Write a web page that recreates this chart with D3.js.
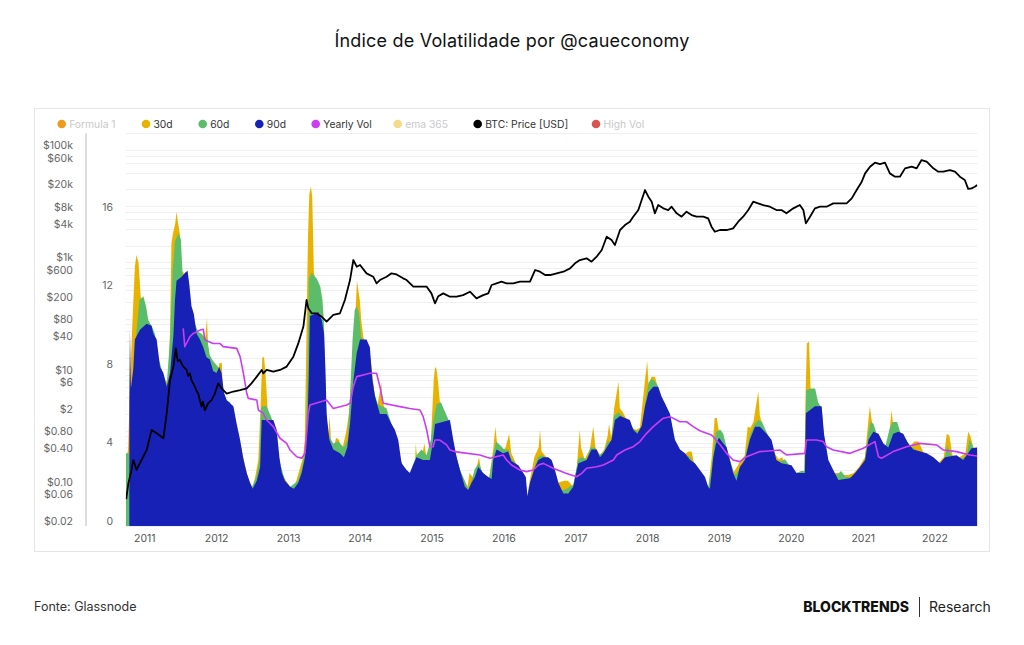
<!DOCTYPE html>
<html>
<head>
<meta charset="utf-8">
<script src="https://cdn.jsdelivr.net/npm/d3@7"></script>
<style>
  body { margin: 0; background: #fff; }
  svg { display: block; font-family: Inter, "Open Sans", sans-serif; }
</style>
</head>
<body>
<script>
// ---- data ----
var legendLabels = ["Formula 1", "30d", "60d", "90d", "Yearly Vol", "ema 365", "BTC: Price [USD]", "High Vol"];
var legendColors = ["#ee9a1b", "#e8b300", "#5bbd6a", "#1721b6", "#cb3cf2", "#f7d98a", "#000000", "#d9534f"];
var legendActive = [false, true, true, true, true, false, true, false];

var volTicks = [0, 4, 8, 12, 16];
var priceTicks = [100000, 60000, 20000, 8000, 4000, 1000, 600, 200, 80, 40, 10, 6, 2, 0.8, 0.4, 0.1, 0.06, 0.02];
var priceTickLabels = ["$100k", "$60k", "$20k", "$8k", "$4k", "$1k", "$600", "$200", "$80", "$40", "$10", "$6", "$2", "$0.80", "$0.40", "$0.10", "$0.06", "$0.02"];

var vol30 = [
  ["2010-09-30",3.0],["2010-10-11",4.0],["2010-10-15",5.4],["2010-10-20",7.0],["2010-10-31",10.0],["2010-11-14",13.2],["2010-11-22",13.8],["2010-12-03",13.4],["2010-12-13",11.8],["2010-12-21",11.0],
  ["2011-01-01",10.5],["2011-01-12",9.5],["2011-01-30",9.3],["2011-02-06",9.4],["2011-02-17",9.6],["2011-03-04",8.9],["2011-03-15",8.3],["2011-03-29",8.0],["2011-04-13",7.5],["2011-05-01",7.3],["2011-05-12",10.0],["2011-05-19",14.4],["2011-05-27",14.9],["2011-06-07",15.4],["2011-06-14",16.0],["2011-06-21",15.5],["2011-07-02",14.8],["2011-07-10",13.0],["2011-07-20",12.9],["2011-08-08",11.8],["2011-08-19",11.4],["2011-09-02",11.0],["2011-09-13",10.2],["2011-09-28",9.5],["2011-10-20",9.0],["2011-11-07",9.6],["2011-11-16",10.6],["2011-11-22",9.0],["2011-12-06",8.2],["2011-12-24",7.8],
  ["2012-01-08",7.9],["2012-01-19",8.3],["2012-01-30",8.3],["2012-02-06",6.5],["2012-02-25",6.0],["2012-04-01",5.0],["2012-05-08",4.0],["2012-06-13",2.3],["2012-07-05",1.95],["2012-07-20",2.6],["2012-08-03",3.4],["2012-08-14",6.0],["2012-08-23",8.6],["2012-09-01",8.6],["2012-09-08",7.8],["2012-09-19",6.0],["2012-10-04",5.3],["2012-10-19",5.0],["2012-11-06",4.0],["2012-11-24",2.8],["2012-12-16",2.4],
  ["2013-01-12",2.0],["2013-02-06",2.1],["2013-03-04",3.0],["2013-03-18",3.5],["2013-03-27",4.4],["2013-04-05",10.0],["2013-04-12",14.6],["2013-04-19",16.9],["2013-04-27",17.3],["2013-05-04",16.8],["2013-05-12",13.0],["2013-05-19",12.5],["2013-06-03",12.0],["2013-06-17",10.5],["2013-07-02",9.5],["2013-07-13",6.0],["2013-07-24",4.5],["2013-07-31",5.6],["2013-08-08",4.3],["2013-08-22",4.0],["2013-09-02",4.5],["2013-09-17",4.4],["2013-10-01",3.8],["2013-10-19",4.6],["2013-10-27",5.0],["2013-11-07",5.8],["2013-11-29",9.1],["2013-12-07",10.2],["2013-12-17",12.5],
  ["2014-01-01",11.5],["2014-01-08",10.5],["2014-01-19",9.6],["2014-02-06",9.2],["2014-02-25",8.5],["2014-03-15",6.9],["2014-03-29",6.0],["2014-04-20",7.3],["2014-04-27",6.3],["2014-05-19",5.7],["2014-06-17",5.0],["2014-07-20",3.6],["2014-08-15",2.9],["2014-09-13",2.6],["2014-10-09",3.2],["2014-10-12",4.2],["2014-10-19",3.5],["2014-11-10",3.4],["2014-11-25",4.2],["2014-12-06",3.5],["2014-12-28",4.3],
  ["2015-01-12",7.5],["2015-01-19",8.1],["2015-01-26",8.0],["2015-02-02",7.4],["2015-02-13",6.2],["2015-03-07",5.6],["2015-04-02",5.2],["2015-04-20",4.0],["2015-05-27",2.8],["2015-07-02",2.0],["2015-07-13",2.7],["2015-07-28",2.5],["2015-08-08",2.6],["2015-08-30",3.5],["2015-09-13",2.6],["2015-10-20",2.4],["2015-11-11",4.0],["2015-11-21",5.06],["2015-12-02",4.0],["2015-12-24",3.8],
  ["2016-01-12",4.0],["2016-01-30",4.7],["2016-02-10",3.7],["2016-03-14",3.0],["2016-04-19",2.4],["2016-05-01",1.5],["2016-05-15",2.4],["2016-05-26",2.9],["2016-06-06",3.5],["2016-06-28",4.0],["2016-07-05",4.9],["2016-07-13",3.8],["2016-08-07",3.5],["2016-09-05",3.0],["2016-10-01",2.2],["2016-11-06",2.3],["2016-11-24",2.3],["2016-12-21",2.0],
  ["2017-01-08",3.0],["2017-01-23",4.9],["2017-01-30",4.0],["2017-02-17",3.4],["2017-03-15",3.9],["2017-04-02",5.06],["2017-04-13",4.0],["2017-05-08",3.6],["2017-05-27",3.9],["2017-06-14",4.6],["2017-06-21",5.2],["2017-07-02",4.5],["2017-07-17",6.0],["2017-08-08",7.35],["2017-08-15",6.0],["2017-08-30",5.8],["2017-09-20",5.4],["2017-10-12",5.0],["2017-11-07",4.9],["2017-11-25",5.0],["2017-12-21",7.44],
  ["2018-01-01",8.4],["2018-01-08",7.2],["2018-01-23",7.6],["2018-02-10",7.6],["2018-02-25",7.0],["2018-03-15",6.4],["2018-04-20",5.6],["2018-05-19",4.2],["2018-06-14",3.7],["2018-07-02",3.6],["2018-07-31",3.8],["2018-08-15",3.8],["2018-08-30",3.1],["2018-10-01",2.6],["2018-11-07",1.9],["2018-11-25",3.5],["2018-12-10",5.5],["2018-12-21",5.5],
  ["2019-01-01",4.8],["2019-01-23",4.5],["2019-02-13",3.8],["2019-03-15",2.7],["2019-04-02",3.0],["2019-04-20",3.3],["2019-05-12",3.6],["2019-05-27",5.06],["2019-06-10",5.0],["2019-06-25",5.3],["2019-07-20",6.85],["2019-07-28",5.6],["2019-08-15",5.0],["2019-09-13",4.5],["2019-10-05",3.8],["2019-10-31",3.4],["2019-11-18",3.5],["2019-12-13",3.0],
  ["2020-01-30",2.7],["2020-02-25",2.8],["2020-03-10",2.8],["2020-03-17",7.0],["2020-03-23",9.3],["2020-04-03",9.4],["2020-04-12",6.6],["2020-04-27",6.8],["2020-05-19",6.1],["2020-06-13",4.5],["2020-07-09",3.2],["2020-08-07",2.7],["2020-08-29",2.7],["2020-09-20",2.6],["2020-10-19",2.6],["2020-11-17",2.7],["2020-12-13",3.0],
  ["2021-01-12",3.5],["2021-01-26",5.0],["2021-02-06",6.1],["2021-02-17",5.3],["2021-03-07",4.8],["2021-04-02",4.2],["2021-05-01",4.0],["2021-05-19",5.0],["2021-05-27",5.9],["2021-06-07",5.0],["2021-07-02",4.9],["2021-07-31",4.5],["2021-08-26",4.0],["2021-09-20",4.3],["2021-10-12",4.3],["2021-11-07",3.7],["2021-12-13",3.5],
  ["2022-01-19",3.2],["2022-02-17",3.5],["2022-03-04",4.7],["2022-03-18",4.6],["2022-04-02",3.6],["2022-05-08",3.5],["2022-06-07",3.7],["2022-06-21",4.8],["2022-07-02",4.6],["2022-07-20",3.9],["2022-08-06",3.8]
];

var vol60 = [
  ["2010-09-29",22],["2010-09-30",3.7],["2010-10-14",3.7],["2010-10-20",3.0],["2010-10-28",6.0],["2010-11-23",10.0],["2010-12-07",11.5],["2010-12-27",11.7],
  ["2011-01-10",11.2],["2011-01-21",10.5],["2011-02-07",10.2],["2011-02-24",9.8],["2011-03-13",8.6],["2011-03-30",8.0],["2011-04-25",7.2],["2011-05-12",9.5],["2011-05-25",13.0],["2011-06-06",14.5],["2011-06-23",14.9],["2011-07-06",14.6],["2011-07-15",12.8],["2011-08-04",12.0],["2011-08-29",11.0],["2011-09-15",10.3],["2011-10-02",9.9],["2011-10-19",9.8],["2011-11-05",9.6],["2011-11-17",9.5],["2011-11-30",8.7],["2011-12-17",8.4],
  ["2012-01-03",8.2],["2012-01-20",8.0],["2012-02-06",6.8],["2012-02-24",6.4],["2012-03-12",6.3],["2012-03-29",5.8],["2012-05-01",4.0],["2012-06-03",2.4],["2012-07-02",2.0],["2012-07-24",2.5],["2012-08-08",3.3],["2012-08-17",6.0],["2012-08-22",6.1],["2012-09-13",6.1],["2012-10-05",5.6],["2012-10-20",5.2],["2012-11-03",4.5],["2012-11-18",3.3],["2012-12-17",2.3],
  ["2013-01-12",2.0],["2013-02-21",2.3],["2013-03-11",2.9],["2013-03-29",3.8],["2013-04-09",7.0],["2013-04-17",12.6],["2013-05-01",12.9],["2013-05-27",12.6],["2013-06-14",12.2],["2013-06-25",11.5],["2013-07-02",10.5],["2013-07-10",7.0],["2013-07-17",5.0],["2013-08-01",4.5],["2013-08-19",4.2],["2013-09-13",4.3],["2013-10-12",4.0],["2013-10-31",4.4],["2013-11-14",7.0],["2013-11-25",9.5],["2013-12-06",11.0],["2013-12-17",11.2],["2013-12-28",10.8],
  ["2014-01-08",9.6],["2014-02-06",9.3],["2014-02-28",8.0],["2014-03-15",6.8],["2014-04-02",6.2],["2014-04-20",6.1],["2014-05-16",6.0],["2014-06-14",5.1],["2014-07-13",4.0],["2014-08-08",2.9],["2014-09-13",2.7],["2014-10-16",3.6],["2014-11-11",3.9],["2014-12-06",3.6],["2014-12-28",4.4],
  ["2015-01-12",5.5],["2015-01-26",6.2],["2015-02-17",6.3],["2015-03-15",5.7],["2015-04-02",5.3],["2015-04-20",4.2],["2015-05-27",2.8],["2015-07-06",1.9],["2015-07-24",2.3],["2015-08-08",2.9],["2015-08-30",3.2],["2015-09-21",2.6],["2015-10-20",2.4],["2015-11-11",3.7],["2015-11-25",4.3],["2015-12-17",4.1],
  ["2016-01-05",3.9],["2016-01-26",3.9],["2016-02-06",3.5],["2016-03-14",3.0],["2016-04-19",2.5],["2016-05-01",1.5],["2016-05-19",2.3],["2016-06-10",3.1],["2016-06-25",3.5],["2016-07-13",3.6],["2016-08-01",3.5],["2016-09-02",3.3],["2016-09-21",2.7],["2016-10-20",1.8],["2016-11-18",1.9],["2016-12-21",2.1],
  ["2017-01-08",3.0],["2017-01-15",3.4],["2017-01-30",3.5],["2017-02-28",3.4],["2017-03-18",4.0],["2017-04-09",4.0],["2017-05-01",3.6],["2017-05-27",3.8],["2017-06-14",4.3],["2017-07-02",4.3],["2017-07-17",5.6],["2017-08-08",5.8],["2017-09-05",5.5],["2017-10-05",5.2],["2017-10-27",4.9],["2017-11-14",4.8],["2017-12-06",5.1],["2017-12-24",6.4],
  ["2018-01-08",7.3],["2018-01-23",7.5],["2018-02-06",7.4],["2018-02-21",7.2],["2018-03-15",6.5],["2018-04-02",6.2],["2018-04-27",5.6],["2018-05-19",4.3],["2018-06-14",3.8],["2018-07-20",3.6],["2018-08-08",3.5],["2018-09-02",3.0],["2018-09-24",2.7],["2018-10-20",2.4],["2018-11-07",1.9],["2018-11-25",3.0],["2018-12-06",4.0],["2018-12-17",4.8],
  ["2019-01-08",4.9],["2019-01-23",4.7],["2019-02-06",4.1],["2019-02-28",3.3],["2019-03-22",2.6],["2019-04-02",2.7],["2019-04-20",3.0],["2019-05-12",3.4],["2019-06-07",4.6],["2019-07-02",5.2],["2019-07-20",5.4],["2019-08-08",5.3],["2019-08-30",4.8],["2019-09-24",4.3],["2019-10-05",3.8],["2019-10-20",3.3],["2019-11-14",3.3],["2019-12-02",3.4],
  ["2020-01-01",3.0],["2020-01-30",2.7],["2020-02-25",2.8],["2020-03-10",2.8],["2020-03-16",5.0],["2020-03-19",6.9],["2020-04-12",7.0],["2020-05-04",7.0],["2020-05-19",6.3],["2020-06-06",6.0],["2020-06-17",4.6],["2020-07-09",3.3],["2020-08-03",2.7],["2020-08-22",2.6],["2020-09-13",2.8],["2020-10-05",2.5],["2020-11-07",2.5],["2020-12-06",2.7],["2020-12-24",3.0],
  ["2021-01-12",3.4],["2021-01-30",4.8],["2021-02-10",5.3],["2021-02-25",5.2],["2021-03-15",4.6],["2021-04-02",4.1],["2021-04-27",4.1],["2021-05-19",5.0],["2021-06-03",5.3],["2021-06-25",5.3],["2021-07-13",4.7],["2021-08-08",4.4],["2021-08-30",4.1],["2021-09-24",3.9],["2021-10-20",3.7],["2021-11-18",3.6],["2021-12-13",3.5],
  ["2022-01-12",3.3],["2022-01-30",3.1],["2022-02-21",3.4],["2022-03-07",4.1],["2022-03-26",3.6],["2022-04-20",3.5],["2022-05-16",3.4],["2022-06-14",3.6],["2022-06-28",4.4],["2022-07-17",4.0],["2022-08-06",3.9]
];

var vol90 = [
  ["2010-10-17",6.4],["2010-10-20",10.0],["2010-10-25",7.0],["2010-11-06",8.0],["2010-11-14",9.5],["2010-12-10",10.0],
  ["2011-01-13",10.3],["2011-02-07",10.2],["2011-02-16",9.8],["2011-03-05",9.5],["2011-03-22",8.1],["2011-04-08",7.8],["2011-04-25",7.1],["2011-05-12",7.8],["2011-05-29",9.7],["2011-06-06",11.5],["2011-06-14",12.5],["2011-07-10",12.7],["2011-07-27",12.9],["2011-08-09",13.0],["2011-08-18",12.3],["2011-08-29",11.2],["2011-09-10",10.8],["2011-09-24",9.8],["2011-10-11",9.5],["2011-10-28",9.1],["2011-11-13",8.6],["2011-11-30",8.5],["2011-12-17",7.9],
  ["2012-01-03",7.8],["2012-01-17",8.1],["2012-01-29",7.8],["2012-02-10",6.8],["2012-02-24",6.4],["2012-03-12",6.25],["2012-03-29",6.1],["2012-04-15",5.2],["2012-05-02",4.4],["2012-05-19",3.4],["2012-06-05",2.7],["2012-06-22",2.2],["2012-07-05",1.9],["2012-07-26",2.3],["2012-08-12",3.0],["2012-08-20",5.4],["2012-10-18",5.4],["2012-11-04",4.9],["2012-11-18",3.5],["2012-11-30",2.7],["2012-12-16",2.3],
  ["2013-01-11",2.0],["2013-01-31",1.9],["2013-02-22",2.2],["2013-03-11",2.7],["2013-03-28",3.5],["2013-04-09",5.0],["2013-04-16",7.5],["2013-04-22",10.7],["2013-05-18",10.8],["2013-06-04",10.9],["2013-06-21",10.5],["2013-07-03",9.8],["2013-07-10",8.0],["2013-07-16",5.7],["2013-07-30",4.4],["2013-08-19",3.9],["2013-09-22",3.7],["2013-10-12",3.5],["2013-10-29",4.0],["2013-11-12",5.2],["2013-11-29",7.4],["2013-12-16",8.8],
  ["2014-01-02",9.5],["2014-02-04",9.5],["2014-02-21",9.1],["2014-03-05",7.5],["2014-03-19",6.6],["2014-04-13",5.7],["2014-05-17",5.7],["2014-06-11",5.2],["2014-06-28",4.9],["2014-07-15",4.4],["2014-08-01",3.2],["2014-08-27",2.85],["2014-09-12",2.7],["2014-10-16",3.5],["2014-11-19",3.36],["2014-12-23",3.36],
  ["2015-01-09",4.4],["2015-01-18",5.2],["2015-04-04",5.4],["2015-04-21",4.4],["2015-05-08",3.5],["2015-05-25",2.85],["2015-06-19",2.0],["2015-07-06",1.83],["2015-07-23",2.2],["2015-08-09",2.5],["2015-08-26",3.0],["2015-09-20",2.7],["2015-10-16",2.5],["2015-11-02",2.4],["2015-11-10",3.36],["2015-11-27",3.9],["2015-12-31",3.7],
  ["2016-01-25",3.8],["2016-02-11",3.3],["2016-03-17",3.1],["2016-04-11",2.7],["2016-04-24",2.5],["2016-05-02",1.5],["2016-05-15",2.2],["2016-06-10",3.0],["2016-06-27",3.36],["2016-07-22",3.5],["2016-08-16",3.5],["2016-09-02",3.36],["2016-09-19",2.85],["2016-10-06",2.2],["2016-11-01",1.66],["2016-11-26",1.66],["2016-12-21",2.0],
  ["2017-01-08",2.85],["2017-01-16",3.2],["2017-02-27",3.36],["2017-03-24",3.9],["2017-04-19",3.9],["2017-05-06",3.5],["2017-05-23",3.7],["2017-06-09",4.0],["2017-07-04",4.4],["2017-07-21",5.4],["2017-08-16",5.6],["2017-10-05",5.4],["2017-10-22",4.9],["2017-11-12",4.7],["2017-12-04",5.1],["2017-12-21",6.1],
  ["2018-01-07",6.8],["2018-02-01",7.1],["2018-02-26",7.1],["2018-03-15",6.6],["2018-04-01",6.25],["2018-04-27",5.7],["2018-05-22",4.4],["2018-06-17",3.9],["2018-07-12",3.7],["2018-08-07",3.36],["2018-09-01",3.2],["2018-09-26",2.85],["2018-10-22",2.5],["2018-11-07",2.0],["2018-11-16",1.9],["2018-12-03",3.5],["2018-12-17",4.2],
  ["2019-01-01",4.5],["2019-01-23",4.2],["2019-02-09",4.0],["2019-02-25",3.36],["2019-03-14",2.7],["2019-03-31",2.3],["2019-04-17",3.0],["2019-05-13",3.36],["2019-06-07",4.4],["2019-07-03",5.06],["2019-07-28",5.06],["2019-08-31",4.7],["2019-09-25",4.4],["2019-10-07",3.9],["2019-10-20",3.36],["2019-11-15",3.2],
  ["2020-01-05",3.1],["2020-01-30",2.7],["2020-03-13",2.7],["2020-03-18",5.74],["2020-05-03",6.1],["2020-06-06",6.1],["2020-06-18",4.7],["2020-07-10",3.36],["2020-08-04",2.85],["2020-08-30",2.34],["2020-10-28",2.43],["2020-11-23",2.7],["2020-12-18",3.0],
  ["2021-01-13",3.36],["2021-01-30",4.4],["2021-02-24",4.8],["2021-03-22",4.7],["2021-04-16",4.2],["2021-05-11",4.0],["2021-06-05",4.7],["2021-07-01",4.8],["2021-07-26",4.7],["2021-08-20",4.2],["2021-09-15",3.9],["2021-11-22",3.7],["2021-12-26",3.5],
  ["2022-01-29",3.2],["2022-02-23",3.5],["2022-04-23",3.6],["2022-05-27",3.36],["2022-07-08",3.96],["2022-08-06",4.0]
];

var yearlyVol = [
  ["2011-07-18",10.07],["2011-07-26",9.14],["2011-08-04",9.31],["2011-08-21",9.65],["2011-09-07",9.81],["2011-10-11",9.98],["2011-10-28",10.02],["2011-11-05",9.48],["2011-12-17",9.3],
  ["2012-01-20",9.3],["2012-02-06",9.14],["2012-04-15",9.05],["2012-05-02",8.63],["2012-05-19",7.78],["2012-06-05",6.76],["2012-06-13",6.5],["2012-07-26",6.42],["2012-08-03",5.91],["2012-08-28",5.74],["2012-09-14",5.4],["2012-10-18",5.06],["2012-11-21",4.47],["2012-12-25",4.21],
  ["2013-01-11",3.87],["2013-02-14",3.53],["2013-03-11",3.45],["2013-03-28",3.7],["2013-04-14",5.74],["2013-04-22",6.16],["2013-07-16",6.42],["2013-08-19",5.99],["2013-10-26",6.16],["2013-11-12",6.25],["2013-11-29",7.1],["2013-12-16",7.61],
  ["2014-02-21",7.78],["2014-03-27",7.78],["2014-04-13",7.1],["2014-04-30",6.25],["2014-07-24",6.08],["2014-09-12",5.99],["2014-11-03",5.91],["2014-11-19",5.57],["2014-12-07",4.89],["2014-12-23",4.04],
  ["2015-01-09",4.04],["2015-01-18",4.38],["2015-02-12",4.38],["2015-03-18",4.13],["2015-04-04",3.87],["2015-04-29",3.79],["2015-09-03",3.62],["2015-10-24",3.45],["2015-12-31",3.62],
  ["2016-01-17",3.36],["2016-02-11",3.11],["2016-03-25",2.85],["2016-04-28",2.77],["2016-06-01",2.85],["2016-06-27",3.11],["2016-07-22",3.19],["2016-09-10",2.94],["2016-11-17",2.68],
  ["2017-01-07",2.51],["2017-02-02",2.68],["2017-02-27",2.94],["2017-04-19",3.02],["2017-05-23",3.11],["2017-07-13",3.36],["2017-07-30",3.62],["2017-09-10",3.87],["2017-10-22",4.04],["2017-11-25",4.3],["2017-12-29",4.72],
  ["2018-02-01",5.06],["2018-03-24",5.49],["2018-04-27",5.57],["2018-06-17",5.31],["2018-07-20",5.31],["2018-08-23",5.06],["2018-09-26",4.85],["2018-11-24",4.63],["2018-12-03",4.55],
  ["2019-01-06",4.15],["2019-02-09",3.7],["2019-03-14",3.36],["2019-04-17",3.28],["2019-05-21",3.53],["2019-07-28",3.79],["2019-11-07",3.87],["2019-12-10",3.62],
  ["2020-03-13",3.7],["2020-03-21",4.38],["2020-05-11",4.38],["2020-06-14",4.3],["2020-07-01",4.04],["2020-08-04",3.87],["2020-10-28",3.7],
  ["2021-01-04",3.96],["2021-03-04",4.3],["2021-03-22",3.53],["2021-04-07",3.45],["2021-06-05",3.79],["2021-08-12",4.04],["2021-10-19",4.21],
  ["2022-01-12",4.13],["2022-02-15",3.87],["2022-04-23",3.79],["2022-06-30",3.62],["2022-08-06",3.57]
];

var btcPrice = [
  ["2010-10-01",0.06],["2010-10-12",0.115],["2010-10-28",0.2],["2010-11-06",0.3],["2010-11-23",0.2],["2010-12-01",0.23],["2010-12-18",0.3],
  ["2011-01-13",0.45],["2011-02-07",1.03],["2011-03-05",0.9],["2011-04-08",0.73],["2011-04-25",2.04],["2011-05-12",8.0],["2011-05-29",13.9],["2011-06-10",29.4],["2011-06-20",17.5],["2011-07-01",18.2],["2011-07-18",13.9],["2011-08-04",12.1],["2011-08-12",9.5],["2011-08-21",10.5],["2011-08-29",8.0],["2011-09-15",6.1],["2011-09-25",5.0],["2011-10-02",4.6],["2011-10-19",2.7],["2011-10-26",3.3],["2011-11-05",2.3],["2011-11-22",3.1],["2011-12-09",3.5],["2011-12-26",4.6],
  ["2012-01-12",7.0],["2012-01-29",5.7],["2012-02-24",4.6],["2012-03-29",5.0],["2012-05-02",5.3],["2012-06-05",5.7],["2012-06-29",7.0],["2012-07-26",9.2],["2012-08-20",12.1],["2012-08-28",10.5],["2012-09-14",12.1],["2012-10-18",11.3],["2012-11-21",12.1],["2012-12-25",13.9],
  ["2013-01-28",20.9],["2013-02-22",36],["2013-03-20",72],["2013-04-05",214],["2013-04-14",152],["2013-05-01",124],["2013-05-26",124],["2013-06-21",108],["2013-07-16",88],["2013-08-19",116],["2013-09-22",124],["2013-10-17",214],["2013-11-12",486],["2013-11-29",1105],["2013-12-16",840],
  ["2014-01-02",900],["2014-02-04",640],["2014-03-10",557],["2014-03-27",424],["2014-04-13",486],["2014-05-17",557],["2014-06-11",640],["2014-07-07",610],["2014-08-09",521],["2014-08-27",486],["2014-09-30",370],["2014-11-03",370],["2014-12-07",370],["2014-12-31",281],
  ["2015-01-18",187],["2015-02-04",250],["2015-03-01",281],["2015-04-04",245],["2015-05-08",245],["2015-06-10",262],["2015-07-15",301],["2015-08-17",229],["2015-09-20",262],["2015-10-16",281],["2015-11-02",396],["2015-11-27",424],["2015-12-22",454],
  ["2016-01-17",424],["2016-02-20",424],["2016-03-25",454],["2016-05-15",454],["2016-06-10",733],["2016-07-05",684],["2016-07-31",597],["2016-08-25",597],["2016-09-28",640],["2016-11-01",684],["2016-12-05",785],["2016-12-30",964],
  ["2017-01-24",1105],["2017-02-27",1183],["2017-03-24",1033],["2017-04-19",1267],["2017-05-15",1667],["2017-06-09",2880],["2017-07-04",2510],["2017-07-21",2047],["2017-08-16",3790],["2017-09-10",4650],["2017-10-05",5330],["2017-10-22",6550],["2017-11-17",8600],["2017-12-04",12980],["2017-12-21",19550],
  ["2018-01-07",14870],["2018-01-24",12110],["2018-02-09",7510],["2018-02-26",10560],["2018-03-24",9220],["2018-04-18",8600],["2018-05-05",9870],["2018-05-31",7510],["2018-06-25",6550],["2018-07-20",8040],["2018-08-15",7000],["2018-09-09",6550],["2018-10-13",6550],["2018-11-07",6110],["2018-11-24",4345],["2018-12-11",3530],
  ["2019-01-06",3790],["2019-02-09",3790],["2019-03-14",4050],["2019-04-09",5330],["2019-05-04",6550],["2019-05-30",8600],["2019-06-24",12110],["2019-07-19",11320],["2019-08-14",10560],["2019-09-17",9870],["2019-10-20",8600],["2019-11-15",8600],["2019-12-10",7510],
  ["2020-01-14",9220],["2020-02-16",10560],["2020-03-05",8600],["2020-03-18",4980],["2020-04-08",6550],["2020-05-03",9220],["2020-05-29",9870],["2020-07-01",9870],["2020-08-04",11320],["2020-09-07",11320],["2020-10-11",11320],["2020-11-06",13900],["2020-12-01",19550],["2020-12-27",27540],
  ["2021-01-13",38750],["2021-02-07",50930],["2021-03-04",60080],["2021-03-30",56880],["2021-04-24",60080],["2021-05-19",38750],["2021-06-14",33800],["2021-07-09",33800],["2021-08-04",47630],["2021-09-07",50930],["2021-10-02",47630],["2021-10-27",66990],["2021-11-22",62630],["2021-12-26",47630],
  ["2022-01-20",41500],["2022-02-15",41500],["2022-03-20",44460],["2022-04-15",41500],["2022-05-10",33800],["2022-06-04",29490],["2022-06-21",20500],["2022-07-08",20930],["2022-07-25",22420],["2022-08-06",23990]
];

// ---- chart ----
var svgWidth = 1024;
var svgHeight = 645;
var plot = { left: 125.8, right: 977.4, top: 133.4, bottom: 526 };
// legend dot positions as laid out in the original
var legendX = [61.7, 146, 202.7, 259.3, 315.7, 397.7, 477.7, 596];

var parseDate = d3.utcParse("%Y-%m-%d");
function toPoints(rows) {
  return rows.map((r) => ({ date: parseDate(r[0]), value: r[1] }));
}

var svg = d3
  .select("body")
  .append("svg")
  .attr("width", svgWidth)
  .attr("height", svgHeight);

// Title
svg
  .append("text")
  .attr("x", 512)
  .attr("y", 47)
  .attr("text-anchor", "middle")
  .attr("font-size", 18)
  .attr("font-weight", 400)
  .attr("letter-spacing", 0.2)
  .attr("fill", "#111")
  .text("Índice de Volatilidade por @caueconomy");

// Card frame
svg
  .append("rect")
  .attr("x", 34.5)
  .attr("y", 108.5)
  .attr("width", 955)
  .attr("height", 443)
  .attr("fill", "#fff")
  .attr("stroke", "#e6e6e6");

// Scales
var xScale = d3
  .scaleUtc()
  .domain([parseDate("2010-09-29"), parseDate("2022-08-07")])
  .range([plot.left, plot.right]);
var yVol = d3.scaleLinear().domain([0, 20]).range([plot.bottom, plot.top]);
var yPrice = d3.scaleLog().domain([0.02, 200000]).range([plot.bottom, plot.top]);

// Grid lines (price steps 1,2,4,6,8 per decade + vol ticks)
var gridPrices = [];
for (var k = -2; k <= 5; k++) {
  [1, 2, 4, 6, 8].forEach((m) => {
    var v = +(m * Math.pow(10, k)).toPrecision(3);
    if (v >= 0.02 && v <= 200000) gridPrices.push(v);
  });
}
var grid = svg.append("g").attr("stroke", "#efefef").attr("stroke-width", 1);
grid
  .selectAll(".gp")
  .data(gridPrices)
  .enter()
  .append("line")
  .attr("x1", plot.left)
  .attr("x2", plot.right)
  .attr("y1", (d) => Math.round(yPrice(d)) + 0.5)
  .attr("y2", (d) => Math.round(yPrice(d)) + 0.5);
grid
  .selectAll(".gv")
  .data(volTicks)
  .enter()
  .append("line")
  .attr("x1", plot.left)
  .attr("x2", plot.right)
  .attr("y1", (d) => Math.round(yVol(d)) + 0.5)
  .attr("y2", (d) => Math.round(yVol(d)) + 0.5);

// Clip to the plot area
svg
  .append("clipPath")
  .attr("id", "plotClip")
  .append("rect")
  .attr("x", plot.left)
  .attr("y", plot.top)
  .attr("width", plot.right - plot.left)
  .attr("height", plot.bottom - plot.top);

var chartGroup = svg.append("g").attr("clip-path", "url(#plotClip)");

var area = d3
  .area()
  .x((d) => xScale(d.date))
  .y0(yVol(0))
  .y1((d) => yVol(d.value));

// back to front: 30d, 60d, 90d
[
  { rows: vol30, color: legendColors[1] },
  { rows: vol60, color: legendColors[2] },
  { rows: vol90, color: legendColors[3] },
].forEach((s) => {
  chartGroup.append("path").datum(toPoints(s.rows)).attr("fill", s.color).attr("d", area);
});

var volLine = d3
  .line()
  .x((d) => xScale(d.date))
  .y((d) => yVol(d.value));
chartGroup
  .append("path")
  .datum(toPoints(yearlyVol))
  .attr("fill", "none")
  .attr("stroke", legendColors[4])
  .attr("stroke-width", 1.6)
  .attr("stroke-linejoin", "round")
  .attr("d", volLine);

var priceLine = d3
  .line()
  .x((d) => xScale(d.date))
  .y((d) => yPrice(d.value));
chartGroup
  .append("path")
  .datum(toPoints(btcPrice))
  .attr("fill", "none")
  .attr("stroke", "#000")
  .attr("stroke-width", 1.8)
  .attr("stroke-linejoin", "round")
  .attr("d", priceLine);

// Price axis (left, log)
var priceAxis = svg
  .append("g")
  .attr("transform", "translate(73,0)")
  .call(
    d3
      .axisLeft(yPrice)
      .tickValues(priceTicks)
      .tickFormat((d, i) => priceTickLabels[i])
      .tickSize(0)
      .tickPadding(0)
  );
priceAxis.select(".domain").remove();
priceAxis
  .selectAll("text")
  .attr("y", -5)
  .attr("fill", "#666")
  .attr("font-size", 10.5)
  .attr("font-family", "Inter, sans-serif");

svg
  .append("line")
  .attr("x1", 86)
  .attr("x2", 86)
  .attr("y1", plot.top)
  .attr("y2", plot.bottom)
  .attr("stroke", "#bbb")
  .attr("stroke-width", 1);

// Volatility axis
var volAxis = svg
  .append("g")
  .attr("transform", "translate(113,0)")
  .call(d3.axisLeft(yVol).tickValues(volTicks).tickSize(0).tickPadding(0));
volAxis.select(".domain").remove();
volAxis
  .selectAll("text")
  .attr("y", -5)
  .attr("fill", "#666")
  .attr("font-size", 10.5)
  .attr("font-family", "Inter, sans-serif");

// Time axis
var xAxis = svg
  .append("g")
  .attr("transform", `translate(0, ${plot.bottom})`)
  .call(
    d3
      .axisBottom(xScale)
      .ticks(d3.utcYear.every(1))
      .tickFormat(d3.utcFormat("%Y"))
      .tickSize(0)
      .tickPadding(9)
  );
xAxis.select(".domain").remove();
xAxis
  .selectAll("text")
  .attr("fill", "#555")
  .attr("font-size", 10.5)
  .attr("font-family", "Inter, sans-serif");

// Legend
var legend = svg.append("g").attr("transform", "translate(0,124)");
legendLabels.forEach((label, i) => {
  legend
    .append("circle")
    .attr("cx", legendX[i])
    .attr("cy", 0)
    .attr("r", 4.3)
    .attr("fill", legendColors[i]);
  legend
    .append("text")
    .attr("x", legendX[i] + 7.5)
    .attr("y", 3.8)
    .attr("font-size", 10.3)
    .attr("fill", legendActive[i] ? "#333" : "#c9c9c9")
    .text(label);
});

// Footer
svg
  .append("text")
  .attr("x", 34)
  .attr("y", 611)
  .attr("font-size", 12.5)
  .attr("fill", "#333")
  .text("Fonte: Glassnode");
svg
  .append("text")
  .attr("x", 909)
  .attr("y", 612)
  .attr("text-anchor", "end")
  .attr("font-size", 14)
  .attr("font-weight", 800)
  .attr("fill", "#111")
  .text("BLOCKTRENDS");
svg
  .append("line")
  .attr("x1", 919.5)
  .attr("x2", 919.5)
  .attr("y1", 597)
  .attr("y2", 617)
  .attr("stroke", "#333");
svg
  .append("text")
  .attr("x", 929)
  .attr("y", 612)
  .attr("font-size", 14)
  .attr("fill", "#222")
  .text("Research");
</script>
</body>
</html>
